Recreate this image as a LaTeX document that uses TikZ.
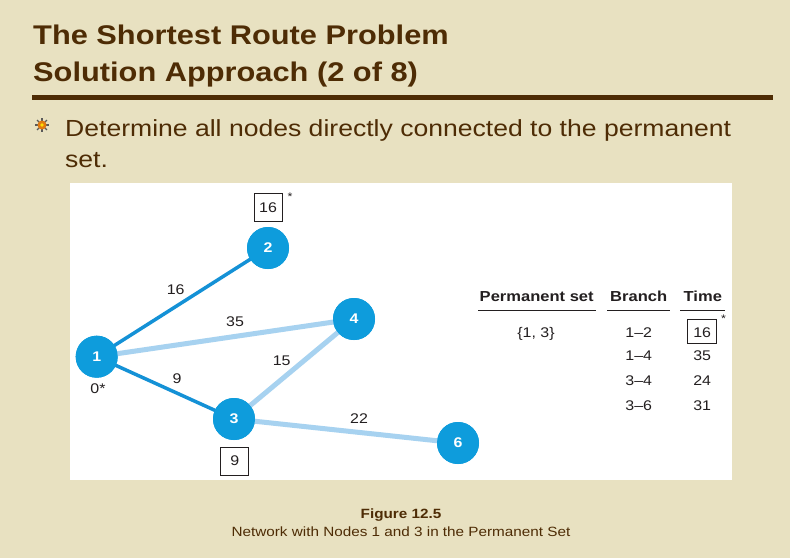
\documentclass[tikz,border=0pt]{standalone}
\usepackage{fontspec}
\setmainfont{Liberation Sans}[FakeStretch=1.14]
\definecolor{bgc}{HTML}{E8E1C1}
\definecolor{brn}{HTML}{4E2C05}
\definecolor{nodeblue}{HTML}{0E9CDC}
\definecolor{darkedge}{HTML}{1491D6}
\definecolor{lightedge}{HTML}{A7D2F0}
\definecolor{ink}{HTML}{231F20}
\definecolor{bulorange}{HTML}{E07A10}
\tikzset{
  gnode/.style={circle, fill=nodeblue, minimum size=42pt, inner sep=0pt, text=white, font=\bfseries\fontsize{14}{14}\selectfont},
  strongedge/.style={draw=darkedge, line width=3.5pt},
  weakedge/.style={draw=lightedge, line width=5pt},
  lbl/.style={font=\fontsize{14}{14}\selectfont, text=ink, inner sep=0pt},
  valbox/.style={draw=ink, line width=0.8pt, minimum width=28pt, minimum height=28pt, inner sep=0pt, font=\fontsize{14}{14}\selectfont, text=ink},
  hdr/.style={font=\bfseries\fontsize{14.5}{14.5}\selectfont, text=ink, inner sep=0pt, anchor=base},
  cell/.style={font=\fontsize{14}{14}\selectfont, text=ink, inner sep=0pt, anchor=base},
  titletext/.style={font=\bfseries\fontsize{27}{27}\selectfont, text=brn, inner sep=0pt, anchor=base west},
  bullettext/.style={font=\fontsize{23.3}{23.3}\selectfont, text=brn, inner sep=0pt, anchor=base west},
  captext/.style={font=\fontsize{13.4}{13.4}\selectfont, text=brn, inner sep=0pt, anchor=base},
  rulestyle/.style={draw=ink, line width=0.8pt}
}
\begin{document}
\begin{tikzpicture}[x=1pt,y=-1pt]
\fill[bgc] (0,0) rectangle (790,558);
\useasboundingbox (0,0) rectangle (790,558);

% title
\node[titletext] (t1) at (33,44) {The Shortest Route Problem};
\node[titletext] (t2) at (33,81) {Solution Approach (2 of 8)};
\fill[brn] (32,95) rectangle (773,99.5);

% bullet icon
\coordinate (bul) at (42,125);
\foreach \a in {0,45,...,315}{
  \draw[gray!70!black, line width=1.1pt] (bul) -- ++(\a:7pt);
}
\fill[bulorange] (bul) circle (4.5pt);
\fill[yellow!80!orange] (bul) circle (1.8pt);

\node[bullettext] (b1) at (65,136) {Determine all nodes directly connected to the permanent};
\node[bullettext] (b2) at (65,167) {set.};

% white panel
\fill[white] (70,183) rectangle (732,480);

% graph nodes (placed first to name them)
\node[gnode] (n1) at (96.7,356.7) {1};
\node[gnode] (n2) at (268,248) {2};
\node[gnode] (n4) at (354,319) {4};
\node[gnode] (n3) at (234,419) {3};
\node[gnode] (n6) at (458,443) {6};

% edges
\draw[weakedge] (n1.center) -- (n4.center);
\draw[weakedge] (n3.center) -- (n4.center);
\draw[weakedge] (n3.center) -- (n6.center);
\draw[strongedge] (n1.center) -- (n2.center);
\draw[strongedge] (n1.center) -- (n3.center);

% nodes again on top of edges
\node[gnode] at (n1) {1};
\node[gnode] at (n2) {2};
\node[gnode] at (n4) {4};
\node[gnode] at (n3) {3};
\node[gnode] at (n6) {6};

% edge labels
\node[lbl] (l12) at (175.7,290) {16};
\node[lbl] (l14) at (235,321.7) {35};
\node[lbl] (l34) at (281.7,361) {15};
\node[lbl] (l13) at (177,379) {9};
\node[lbl] (l36) at (359,418.7) {22};
\node[lbl] (l1) at (98,389) {0*};

% value boxes
\node[valbox] (v2) at (268,207.5) {16};
\node[lbl, anchor=center] (s2) at (290,197) {\fontsize{11}{11}\selectfont *};
\node[valbox] (v3) at (234.7,461) {9};

% table
\node[hdr] (h1) at (536.7,301) {Permanent set};
\node[hdr] (h2) at (638.7,301) {Branch};
\node[hdr] (h3) at (702.8,301) {Time};
\draw[rulestyle] (478,310) -- (596,310);
\draw[rulestyle] (607,310) -- (670,310);
\draw[rulestyle] (680,310) -- (725,310);

\node[cell] (ps) at (536,337) {\{1, 3\}};
\node[cell] (r1) at (638.8,337) {1–2};
\node[cell] (r2) at (638.8,360) {1–4};
\node[cell] (r3) at (638.8,385) {3–4};
\node[cell] (r4) at (638.8,410) {3–6};
\node[cell] (tm1) at (702.2,337) {16};
\node[cell] (tm2) at (702.2,360) {35};
\node[cell] (tm3) at (702.2,385) {24};
\node[cell] (tm4) at (702.2,410) {31};
\draw[draw=ink, line width=0.8pt] (687.7,319) rectangle (716.7,343);
\node[lbl, anchor=center] (ts) at (723.5,318.5) {\fontsize{11}{11}\selectfont *};

% caption
\node[captext, font=\bfseries\fontsize{13.4}{13.4}\selectfont] (c1) at (401,518) {Figure 12.5};
\node[captext] (c2) at (401,536) {Network with Nodes 1 and 3 in the Permanent Set};
\end{tikzpicture}
\end{document}
